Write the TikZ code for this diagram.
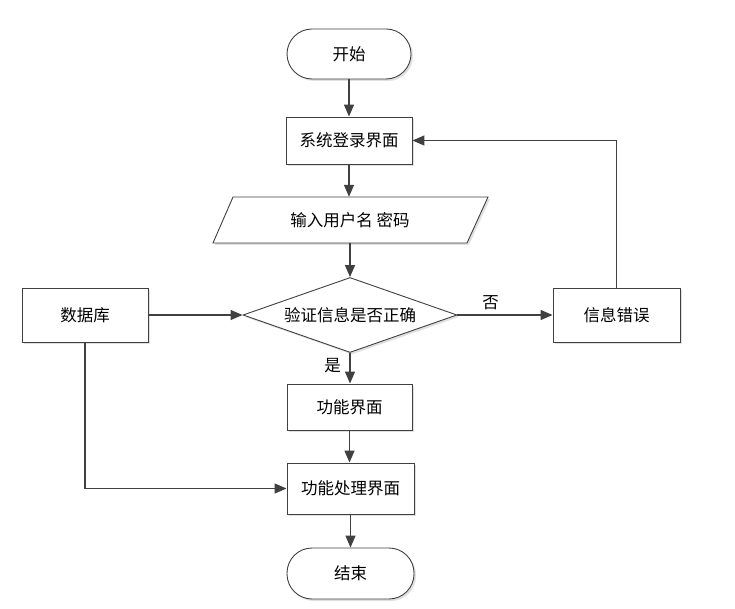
\documentclass[tikz,border=0pt]{standalone}
\usepackage{fontspec}
\setmainfont{Noto Sans CJK SC}
\usetikzlibrary{arrows.meta,shapes.geometric,shadows}
\definecolor{ln}{HTML}{404040}
\tikzset{
  shd/.style={drop shadow={shadow xshift=2pt, shadow yshift=-2pt, opacity=0.12, fill=black}},
  base/.style={draw=ln, line width=0.9pt, fill=white, font=\fontsize{16.5}{18}\selectfont, inner sep=0pt, shd},
  term/.style={base, rounded corners=25pt, minimum width=124pt, minimum height=50pt},
  proc/.style={base, minimum width=126pt, minimum height=50pt},
  dec/.style={base, diamond, aspect=2.85, minimum width=214pt, minimum height=75pt},
  conn/.style={draw=ln, line width=1.4pt, -{Triangle[length=12pt,width=10pt]}},
  lab/.style={font=\fontsize{16.5}{18}\selectfont}
}
\begin{document}
\begin{tikzpicture}[x=1pt,y=-1pt]
\useasboundingbox (0,0) rectangle (735,609);
\node[term] (start) at (349,54) {开始};
\node[proc, minimum height=47pt] (login) at (349,140.5) {系统登录界面};
% parallelogram
\draw[draw=ln, line width=0.9pt, fill=white, shd] (213,243) -- (233,197) -- (488,197) -- (467,243) -- cycle;
\node[lab, minimum width=234pt, minimum height=46pt, inner sep=0pt] (input) at (350,220) {输入用户名 密码};
\node[dec] (check) at (350,315) {};
\node[lab] at (350,315) {验证信息是否正确};
\node[proc, minimum height=54pt] (db) at (85,315) {数据库};
\node[proc, minimum width=127pt, minimum height=54pt] (err) at (616.5,315) {信息错误};
\node[proc, minimum width=125pt, minimum height=46pt] (func) at (349.5,407) {功能界面};
\node[proc, minimum width=127pt, minimum height=51pt] (proc) at (350.5,488.5) {功能处理界面};
\node[term, minimum width=127pt, minimum height=51pt] (end) at (350.5,573.5) {结束};
\coordinate (c1) at (616.5,140.5);
\coordinate (c2) at (85,488.5);

\draw[conn] (start) -- (login);
\draw[conn] (login) -- (login|-input.north);
\draw[conn] (input.south-|check.north) -- (check.north);
\draw[conn] (db.east) -- (check.west);
\draw[conn] (check.east) -- node[lab, above, pos=0.35, yshift=1pt] {否} (err.west);
\draw[conn] (err.north) -- (c1) -- (login.east);
\draw[conn] (check.south) -- node[lab, left, pos=0.4, xshift=-5pt] {是} (check.south|-func.north);
\draw[conn] (func) -- (func|-proc.north);
\draw[conn] (db.south) -- (c2) -- (proc.west);
\draw[conn] (proc) -- (proc|-end.north);
\end{tikzpicture}
\end{document}
